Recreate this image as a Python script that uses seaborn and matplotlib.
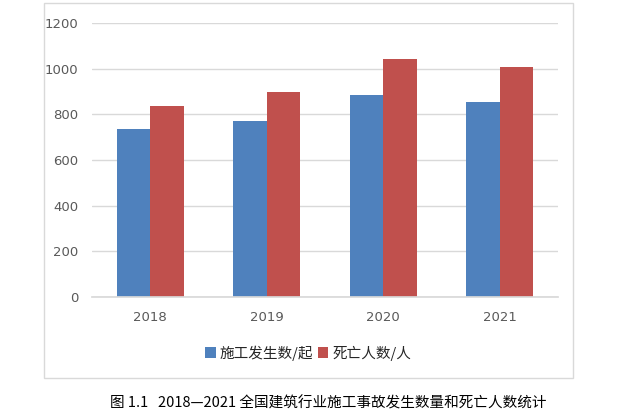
import matplotlib
matplotlib.use("Agg")
import matplotlib.pyplot as plt
import seaborn as sns
import pandas as pd
from matplotlib.patches import Rectangle

years = ["2018", "2019", "2020", "2021"]
accidents = [736, 771, 885, 854]
deaths = [837, 898, 1042, 1007]
series_names = ["施工发生数/起", "死亡人数/人"]
caption = "图 1.1   2018—2021 全国建筑行业施工事故发生数量和死亡人数统计"

df = pd.DataFrame({
    "year": years * 2,
    "value": accidents + deaths,
    "series": [series_names[0]] * len(years) + [series_names[1]] * len(years),
})

sns.set_theme(style="white")
plt.rcParams["font.family"] = ["DejaVu Sans", "Noto Sans CJK SC"]

fig = plt.figure(figsize=(6.27, 4.11), dpi=100)
ax = fig.add_axes([92 / 627, 1 - 297 / 411, (558 - 92) / 627, (297 - 23) / 411])

palette = {series_names[0]: "#4F81BD", series_names[1]: "#C0504D"}
sns.barplot(data=df, x="year", y="value", hue="series", palette=palette,
            width=0.575, gap=0, saturation=1, ax=ax, legend=True,
            linewidth=0, edgecolor="none")

ax.set_ylim(0, 1200)
ax.set_yticks([0, 200, 400, 600, 800, 1000, 1200])
ax.yaxis.grid(True, color="#D9D9D9", linewidth=1)
ax.set_axisbelow(True)
for s in ["top", "right", "left"]:
    ax.spines[s].set_visible(False)
ax.spines["bottom"].set_color("#D9D9D9")
ax.set_xlabel("")
ax.set_ylabel("")
ax.tick_params(axis="both", length=0, labelsize=9.5, colors="#595959")
ax.tick_params(axis="y", pad=10)
ax.tick_params(axis="x", pad=10)

handles, labels = ax.get_legend_handles_labels()
ax.get_legend().remove()
fig.legend(handles, labels, loc="center", bbox_to_anchor=(308 / 627, 1 - 353 / 411),
           ncol=2, frameon=False, handlelength=0.75, handleheight=0.75,
           handletextpad=0.25, columnspacing=0.3,
           prop={"family": ["Noto Sans CJK SC", "DejaVu Sans"], "size": 10.5})

fig.patches.append(Rectangle((44 / 627, 1 - 378 / 411), (573 - 44) / 627, (378 - 3) / 411,
                             transform=fig.transFigure, fill=False,
                             edgecolor="#D9D9D9", linewidth=1))

fig.text(328 / 627, 1 - 403 / 411, caption, ha="center", va="center",
         fontsize=10.5, color="#000000",
         family=["Noto Sans CJK SC", "DejaVu Sans"])

fig.savefig("out.png", dpi=100)
